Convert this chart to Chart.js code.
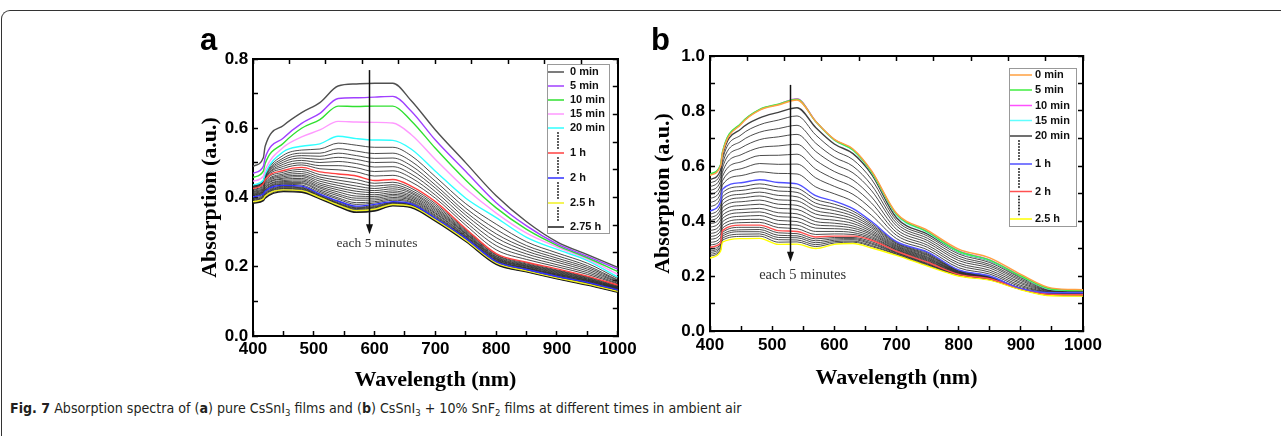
<!DOCTYPE html>
<html>
<head>
<meta charset="utf-8">
<script src="https://cdn.jsdelivr.net/npm/chart.js@4.4.1/dist/chart.umd.min.js"></script>
<style>
html, body { margin: 0; padding: 0; background: #fff; }
body { width: 1281px; height: 436px; position: relative; overflow: hidden; }
#frame { position: absolute; left: 1px; top: 10px; width: 1300px; height: 440px;
  border-top: 1.5px solid #333; border-left: 1.5px solid #333; border-top-left-radius: 9px; }
canvas { position: absolute; top: 0; }
.tag { position: absolute; font: bold 31px 'Liberation Sans', Arial, sans-serif; line-height: 31px; color: #000; }
#cap { position: absolute; left: 10px; top: 400px; white-space: nowrap; color: #231f20;
  font: 14.1px 'Liberation Sans Narrow', 'DejaVu Sans Condensed', 'Liberation Sans', sans-serif; }
#cap sub { font-size: 9.5px; vertical-align: -3px; line-height: 0; }
</style>
</head>
<body>
<div id="frame"></div>
<canvas id="chartA" width="645" height="400" style="left:0px"></canvas>
<canvas id="chartB" width="641" height="400" style="left:640px"></canvas>
<div class="tag" style="left:200px;top:24px">a</div>
<div class="tag" style="left:651px;top:24px">b</div>
<div id="cap"><b>Fig. 7</b> Absorption spectra of (<b>a</b>) pure CsSnI<sub>3</sub> films and (<b>b</b>) CsSnI<sub>3</sub> + 10% SnF<sub>2</sub> films at different times in ambient air</div>
<script>
// wavelength grid (nm) shared by every spectrum
const wavelengths = [400,417,420,450,480,510,540,570,600,630,660,700,750,800,850,900,950,1000];

// panel a: pure CsSnI3, one spectrum every 5 minutes
const aT0   = [0.490,0.515,0.548,0.608,0.645,0.674,0.722,0.728,0.730,0.730,0.680,0.595,0.500,0.405,0.330,0.272,0.235,0.198];
const aT5   = [0.470,0.490,0.515,0.572,0.614,0.643,0.686,0.688,0.690,0.692,0.650,0.566,0.475,0.385,0.318,0.266,0.230,0.193];
const aT10  = [0.458,0.476,0.498,0.557,0.600,0.625,0.664,0.663,0.664,0.664,0.622,0.542,0.450,0.370,0.308,0.262,0.226,0.186];
const aT15  = [0.447,0.462,0.480,0.545,0.575,0.595,0.620,0.618,0.617,0.615,0.582,0.510,0.425,0.355,0.297,0.257,0.222,0.178];
const aT20  = [0.436,0.450,0.468,0.532,0.548,0.555,0.577,0.570,0.566,0.565,0.540,0.476,0.398,0.342,0.285,0.250,0.218,0.170];
const aT25  = [0.434,0.448,0.465,0.522,0.537,0.540,0.557,0.551,0.545,0.545,0.521,0.460,0.382,0.323,0.272,0.240,0.210,0.166];
const aT30  = [0.433,0.447,0.463,0.514,0.528,0.528,0.541,0.534,0.527,0.528,0.505,0.447,0.369,0.308,0.261,0.232,0.203,0.162];
const aT35  = [0.432,0.446,0.461,0.508,0.521,0.519,0.528,0.521,0.513,0.514,0.492,0.436,0.358,0.295,0.253,0.225,0.198,0.160];
const aT40  = [0.430,0.444,0.459,0.502,0.514,0.510,0.516,0.510,0.501,0.502,0.480,0.427,0.349,0.284,0.245,0.219,0.193,0.157];
const aT45  = [0.429,0.443,0.457,0.496,0.507,0.501,0.504,0.498,0.488,0.489,0.468,0.417,0.339,0.272,0.237,0.213,0.188,0.155];
const aT50  = [0.428,0.442,0.456,0.490,0.500,0.492,0.492,0.486,0.475,0.477,0.457,0.407,0.329,0.261,0.229,0.206,0.183,0.152];
const aT55  = [0.427,0.441,0.454,0.484,0.494,0.483,0.480,0.474,0.462,0.464,0.445,0.398,0.320,0.249,0.221,0.200,0.178,0.150];
const aT60  = [0.426,0.440,0.452,0.478,0.487,0.474,0.468,0.462,0.449,0.452,0.433,0.388,0.310,0.238,0.213,0.194,0.173,0.147];
const aT65  = [0.423,0.436,0.448,0.473,0.481,0.466,0.459,0.452,0.441,0.444,0.427,0.382,0.307,0.235,0.211,0.191,0.171,0.145];
const aT70  = [0.421,0.433,0.444,0.468,0.475,0.459,0.450,0.442,0.433,0.437,0.421,0.377,0.304,0.233,0.208,0.189,0.169,0.144];
const aT75  = [0.418,0.430,0.441,0.464,0.469,0.453,0.442,0.433,0.426,0.431,0.416,0.372,0.301,0.230,0.206,0.187,0.167,0.142];
const aT80  = [0.416,0.427,0.438,0.460,0.464,0.447,0.435,0.425,0.420,0.425,0.412,0.368,0.298,0.228,0.204,0.185,0.165,0.141];
const aT85  = [0.414,0.425,0.435,0.456,0.460,0.441,0.428,0.418,0.414,0.419,0.407,0.364,0.296,0.226,0.202,0.183,0.164,0.140];
const aT90  = [0.412,0.422,0.432,0.453,0.455,0.436,0.422,0.411,0.408,0.414,0.403,0.360,0.294,0.224,0.201,0.181,0.162,0.139];
const aT95  = [0.410,0.420,0.429,0.449,0.451,0.431,0.416,0.404,0.403,0.409,0.399,0.356,0.291,0.223,0.199,0.179,0.161,0.138];
const aT100 = [0.408,0.418,0.427,0.446,0.447,0.427,0.410,0.398,0.398,0.405,0.395,0.353,0.289,0.221,0.197,0.178,0.160,0.137];
const aT105 = [0.407,0.416,0.424,0.443,0.443,0.422,0.405,0.392,0.393,0.400,0.392,0.349,0.287,0.219,0.196,0.176,0.158,0.136];
const aT110 = [0.405,0.414,0.422,0.440,0.440,0.418,0.399,0.385,0.388,0.396,0.388,0.346,0.285,0.218,0.195,0.175,0.157,0.135];
const aT115 = [0.403,0.412,0.420,0.438,0.436,0.414,0.395,0.380,0.384,0.392,0.385,0.343,0.284,0.216,0.193,0.173,0.156,0.134];
const aT120 = [0.402,0.410,0.418,0.435,0.433,0.410,0.390,0.375,0.380,0.388,0.382,0.340,0.282,0.215,0.192,0.172,0.155,0.133];
const aT125 = [0.399,0.407,0.415,0.432,0.430,0.408,0.388,0.372,0.377,0.386,0.381,0.339,0.281,0.214,0.191,0.171,0.154,0.132];
const aT130 = [0.396,0.404,0.412,0.430,0.428,0.406,0.385,0.370,0.374,0.385,0.379,0.338,0.280,0.213,0.190,0.170,0.153,0.131];
const aT135 = [0.394,0.402,0.410,0.428,0.426,0.404,0.383,0.368,0.372,0.384,0.378,0.338,0.279,0.213,0.190,0.170,0.152,0.131];
const aT140 = [0.392,0.400,0.408,0.426,0.424,0.403,0.382,0.366,0.370,0.382,0.377,0.337,0.279,0.212,0.189,0.169,0.152,0.130];
const aT145 = [0.390,0.398,0.406,0.424,0.422,0.402,0.380,0.364,0.368,0.381,0.376,0.337,0.278,0.212,0.189,0.169,0.151,0.130];
const aT150 = [0.388,0.396,0.404,0.422,0.420,0.400,0.378,0.362,0.366,0.380,0.375,0.336,0.277,0.211,0.188,0.168,0.150,0.129];
const aT155 = [0.386,0.394,0.402,0.420,0.418,0.399,0.377,0.360,0.364,0.378,0.373,0.334,0.275,0.209,0.187,0.167,0.149,0.128];
const aT160 = [0.385,0.393,0.400,0.419,0.417,0.398,0.376,0.358,0.363,0.377,0.372,0.333,0.274,0.208,0.186,0.166,0.148,0.127];
const aT165 = [0.383,0.391,0.398,0.417,0.415,0.396,0.374,0.357,0.361,0.376,0.371,0.332,0.273,0.207,0.185,0.165,0.147,0.126];

// panel b: CsSnI3 + 10% SnF2
const bT0   = [0.565,0.600,0.645,0.752,0.803,0.822,0.840,0.762,0.697,0.662,0.582,0.428,0.366,0.298,0.266,0.206,0.156,0.150];
const bT5   = [0.570,0.605,0.650,0.756,0.806,0.825,0.843,0.762,0.695,0.658,0.578,0.424,0.360,0.290,0.258,0.200,0.152,0.148];
const bT10  = [0.568,0.603,0.648,0.754,0.805,0.824,0.845,0.763,0.696,0.660,0.580,0.425,0.361,0.292,0.259,0.201,0.153,0.148];
const bT15  = [0.569,0.604,0.649,0.755,0.805,0.824,0.843,0.761,0.694,0.657,0.577,0.422,0.358,0.288,0.256,0.199,0.151,0.147];
const bT20  = [0.550,0.585,0.635,0.735,0.775,0.795,0.812,0.740,0.680,0.645,0.570,0.412,0.352,0.287,0.255,0.198,0.152,0.148];
const bT25  = [0.538,0.572,0.622,0.713,0.750,0.767,0.782,0.713,0.657,0.623,0.551,0.402,0.345,0.280,0.249,0.193,0.151,0.147];
const bT30  = [0.524,0.559,0.607,0.690,0.723,0.736,0.748,0.683,0.632,0.599,0.530,0.392,0.337,0.272,0.242,0.188,0.149,0.146];
const bT35  = [0.510,0.545,0.593,0.666,0.696,0.706,0.715,0.653,0.607,0.575,0.510,0.382,0.329,0.264,0.236,0.183,0.147,0.145];
const bT40  = [0.495,0.530,0.577,0.641,0.667,0.673,0.679,0.621,0.580,0.549,0.487,0.370,0.321,0.256,0.229,0.177,0.146,0.144];
const bT45  = [0.481,0.515,0.562,0.615,0.638,0.639,0.643,0.589,0.553,0.523,0.465,0.359,0.312,0.247,0.221,0.172,0.144,0.143];
const bT50  = [0.466,0.500,0.546,0.590,0.609,0.606,0.607,0.557,0.526,0.497,0.443,0.348,0.304,0.239,0.214,0.166,0.142,0.141];
const bT55  = [0.451,0.485,0.531,0.565,0.579,0.573,0.571,0.524,0.499,0.471,0.420,0.336,0.295,0.230,0.207,0.161,0.141,0.140];
const bT60  = [0.436,0.470,0.515,0.539,0.550,0.540,0.535,0.492,0.472,0.445,0.398,0.325,0.287,0.222,0.200,0.155,0.139,0.139];
const bT65  = [0.424,0.457,0.502,0.525,0.535,0.524,0.519,0.479,0.461,0.436,0.392,0.322,0.284,0.221,0.199,0.155,0.139,0.138];
const bT70  = [0.412,0.443,0.488,0.511,0.520,0.509,0.504,0.465,0.449,0.427,0.386,0.319,0.280,0.219,0.198,0.155,0.138,0.138];
const bT75  = [0.401,0.430,0.475,0.497,0.505,0.493,0.488,0.452,0.438,0.418,0.380,0.316,0.277,0.218,0.197,0.155,0.137,0.137];
const bT80  = [0.389,0.416,0.461,0.484,0.491,0.477,0.473,0.438,0.426,0.409,0.374,0.312,0.274,0.216,0.196,0.155,0.137,0.136];
const bT85  = [0.377,0.403,0.448,0.470,0.476,0.461,0.457,0.425,0.415,0.400,0.367,0.309,0.270,0.215,0.196,0.155,0.136,0.136];
const bT90  = [0.365,0.389,0.434,0.456,0.461,0.446,0.442,0.411,0.403,0.391,0.361,0.306,0.267,0.213,0.195,0.154,0.136,0.135];
const bT95  = [0.354,0.376,0.421,0.442,0.446,0.430,0.426,0.398,0.392,0.382,0.355,0.303,0.264,0.212,0.194,0.154,0.135,0.135];
const bT100 = [0.343,0.364,0.409,0.430,0.433,0.416,0.412,0.386,0.382,0.374,0.350,0.300,0.261,0.211,0.193,0.154,0.135,0.134];
const bT105 = [0.333,0.352,0.397,0.417,0.420,0.402,0.398,0.374,0.372,0.366,0.344,0.297,0.258,0.209,0.192,0.154,0.134,0.134];
const bT110 = [0.322,0.340,0.385,0.405,0.406,0.388,0.385,0.362,0.362,0.358,0.339,0.295,0.255,0.208,0.191,0.154,0.134,0.133];
const bT115 = [0.313,0.329,0.374,0.394,0.395,0.376,0.372,0.351,0.353,0.351,0.334,0.292,0.252,0.207,0.191,0.154,0.133,0.132];
const bT120 = [0.305,0.320,0.365,0.385,0.385,0.365,0.362,0.342,0.345,0.345,0.330,0.290,0.250,0.206,0.190,0.154,0.133,0.132];
const bT125 = [0.298,0.315,0.358,0.377,0.377,0.357,0.354,0.335,0.340,0.340,0.325,0.287,0.248,0.205,0.189,0.153,0.132,0.131];
const bT130 = [0.291,0.310,0.351,0.368,0.369,0.348,0.346,0.328,0.335,0.336,0.320,0.285,0.245,0.204,0.188,0.153,0.131,0.130];
const bT135 = [0.285,0.305,0.344,0.361,0.361,0.340,0.339,0.321,0.330,0.332,0.316,0.283,0.243,0.203,0.188,0.152,0.131,0.130];
const bT140 = [0.278,0.300,0.337,0.352,0.353,0.332,0.331,0.314,0.325,0.327,0.311,0.280,0.241,0.202,0.187,0.151,0.130,0.129];
const bT145 = [0.272,0.295,0.330,0.344,0.345,0.323,0.324,0.307,0.320,0.323,0.307,0.278,0.238,0.201,0.186,0.151,0.129,0.128];
const bT150 = [0.265,0.290,0.323,0.336,0.337,0.315,0.316,0.300,0.315,0.318,0.302,0.275,0.236,0.200,0.185,0.150,0.128,0.127];

const seriesA = [aT0,aT5,aT10,aT15,aT20,aT25,aT30,aT35,aT40,aT45,aT50,aT55,aT60,aT65,aT70,aT75,aT80,aT85,
  aT90,aT95,aT100,aT105,aT110,aT115,aT120,aT125,aT130,aT135,aT140,aT145,aT150,aT155,aT160,aT165];
const seriesB = [bT0,bT5,bT10,bT15,bT20,bT25,bT30,bT35,bT40,bT45,bT50,bT55,bT60,bT65,bT70,bT75,bT80,bT85,
  bT90,bT95,bT100,bT105,bT110,bT115,bT120,bT125,bT130,bT135,bT140,bT145,bT150];

// legend entries: which series index (minutes / 5) carries which label and colour
const legendA = ['0 min','5 min','10 min','15 min','20 min','1 h','2 h','2.5 h','2.75 h'];
const keyIdxA = [0,1,2,3,4,12,24,30,33];
const colorsA = ['#505050','#a040ff','#30e030','#ff99ff','#30ffff','#ff4040','#3030ff','#f0f020','#1a1a1a'];
const legendB = ['0 min','5 min','10 min','15 min','20 min','1 h','2 h','2.5 h'];
const keyIdxB = [0,1,2,3,4,12,24,30];
const colorsB = ['#ffa040','#40ee40','#ff50ff','#60ffff','#404040','#5050ff','#ff5050','#ffff00'];

function buildSets(series, keyIdx, colors) {
  return series.map((vals, i) => {
    const k = keyIdx.indexOf(i);
    return {
      data: wavelengths.map((w, j) => ({ x: w, y: vals[j] })),
      borderColor: k >= 0 ? colors[k] : 'rgba(45,45,45,0.85)',
      borderWidth: k >= 0 ? 1.4 : 1,
      order: k >= 0 ? 0 : 1,
      pointRadius: 0,
      fill: false,
      cubicInterpolationMode: 'monotone'
    };
  });
}

const tickFont = { family: 'Liberation Sans', weight: 'bold', size: 17 };
const titleFont = { family: 'Liberation Serif', weight: 'bold', size: 22 };
const frameGrid = { drawOnChartArea: false, drawTicks: true, tickLength: -5, color: '#000', tickWidth: 1.5 };
const frameBorder = { display: true, width: 2, color: '#000' };

function makeScales(c) {
  return {
    x: {
      type: 'linear', position: 'bottom', min: 400, max: 1000,
      afterFit: s => { s.height = c.xh; },
      ticks: { stepSize: 50, autoSkip: false, maxRotation: 0, padding: c.xpad, color: '#000', font: tickFont,
        callback: v => v % 100 === 0 ? String(v) : '' },
      grid: frameGrid, border: frameBorder,
      title: { display: true, text: 'Wavelength (nm)', color: '#000', font: titleFont, padding: 0 }
    },
    x2: {
      type: 'linear', position: 'top', min: 0, max: 10,
      afterFit: s => { s.height = 0; },
      ticks: { display: false, stepSize: 1 }, grid: frameGrid, border: frameBorder
    },
    y: {
      type: 'linear', position: 'left', min: 0, max: c.ymax,
      afterFit: s => { s.width = c.yw; },
      ticks: { stepSize: 0.1, autoSkip: false, padding: c.ypad, color: '#000', font: tickFont,
        callback: v => Math.round(v * 10) % 2 === 0 ? v.toFixed(1) : '' },
      grid: frameGrid, border: frameBorder,
      title: { display: true, text: 'Absorption (a.u.)', color: '#000', font: titleFont, padding: 0 }
    },
    y2: {
      type: 'linear', position: 'right', min: 0, max: 10,
      afterFit: s => { s.width = 0; },
      ticks: { display: false, stepSize: 1 }, grid: frameGrid, border: frameBorder
    }
  };
}

// arrow, note and the boxed legend with dotted gaps
const decor = {
  id: 'decor',
  afterDatasetsDraw(chart, args, o) {
    const { ctx, chartArea: ca } = chart;
    const x = chart.scales.x, y = chart.scales.y;
    ctx.save();
    const ax = Math.round(x.getPixelForValue(o.arrow.x)) + 0.5;
    const y1 = y.getPixelForValue(o.arrow.from), y2 = y.getPixelForValue(o.arrow.to);
    ctx.strokeStyle = '#111'; ctx.fillStyle = '#111'; ctx.lineWidth = 1.5;
    ctx.beginPath(); ctx.moveTo(ax, y1); ctx.lineTo(ax, y2 - 8); ctx.stroke();
    ctx.beginPath(); ctx.moveTo(ax - 3.5, y2 - 10); ctx.lineTo(ax + 3.5, y2 - 10); ctx.lineTo(ax, y2); ctx.closePath(); ctx.fill();

    ctx.font = o.note.size + 'px "Liberation Serif"';
    ctx.textAlign = 'center'; ctx.textBaseline = 'middle'; ctx.fillStyle = '#333';
    ctx.fillText(o.note.text, x.getPixelForValue(o.note.x), y.getPixelForValue(o.note.y));

    const L = o.legend;
    const bx = Math.round(ca.right - L.right - L.w), by = Math.round(ca.top + L.top);
    ctx.fillStyle = '#fff'; ctx.fillRect(bx, by, L.w, L.h);
    ctx.strokeStyle = '#999'; ctx.lineWidth = 1; ctx.strokeRect(bx + 0.5, by + 0.5, L.w, L.h);
    ctx.font = 'bold 11px "Liberation Sans"'; ctx.textAlign = 'left'; ctx.textBaseline = 'middle';
    L.labels.forEach((lab, i) => {
      const ry = by + L.rows[i];
      ctx.strokeStyle = L.colors[i]; ctx.lineWidth = 1.5;
      ctx.beginPath(); ctx.moveTo(bx + 1, ry); ctx.lineTo(bx + 1 + L.line, ry); ctx.stroke();
      ctx.fillStyle = '#111'; ctx.fillText(lab, bx + L.text, ry);
      if (i > 0 && L.rows[i] - L.rows[i - 1] > 20) {
        ctx.fillStyle = '#111';
        for (let d = by + L.rows[i - 1] + 5; d < ry - 4; d += 3) {
          ctx.beginPath(); ctx.arc(bx + L.dotX, d, 0.9, 0, Math.PI * 2); ctx.fill();
        }
      }
    });
    ctx.restore();
  }
};

function makeChart(id, sets, c, deco) {
  return new Chart(document.getElementById(id), {
    type: 'line',
    data: { datasets: sets },
    options: {
      responsive: false, animation: false, events: [],
      layout: { padding: c.pad },
      scales: makeScales(c),
      plugins: { legend: { display: false }, tooltip: { enabled: false }, decor: deco }
    },
    plugins: [decor]
  });
}

makeChart('chartA', buildSets(seriesA, keyIdxA, colorsA),
  { pad: { left: 197, right: 18, top: 59, bottom: 6 }, xh: 58, yw: 56, xpad: 8.3, ypad: 9.7, ymax: 0.8 },
  { arrow: { x: 590, from: 0.768, to: 0.294 },
    note: { text: 'each 5 minutes', x: 604, y: 0.266, size: 13.5 },
    legend: { labels: legendA, colors: colorsA, w: 62, h: 169, right: 9, top: 5,
      rows: [8, 22, 36, 50, 64, 89, 114, 139, 163], line: 16, text: 23, dotX: 11 } });

makeChart('chartB', buildSets(seriesB, keyIdxB, colorsB),
  { pad: { left: 10, right: 198, top: 56, bottom: 8 }, xh: 61, yw: 60, xpad: 8.8, ypad: 10, ymax: 1.0 },
  { arrow: { x: 528.7, from: 0.895, to: 0.252 },
    note: { text: 'each 5 minutes', x: 549, y: 0.204, size: 14.5 },
    legend: { labels: legendB, colors: colorsB, w: 67, h: 158, right: 7, top: 12,
      rows: [7, 22, 37.5, 52.5, 68, 96, 123.5, 151], line: 22, text: 26, dotX: 10 } });
</script>
</body>
</html>
